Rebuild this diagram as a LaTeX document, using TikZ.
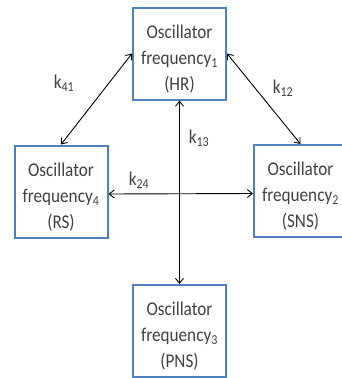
\documentclass[tikz,border=0pt]{standalone}
\usepackage{fontspec}
\setmainfont{Carlito}[FakeStretch=0.88]
\usetikzlibrary{arrows.meta}
\definecolor{boxblue}{HTML}{4F81BD}
\definecolor{txtgray}{HTML}{404040}
% three centred lines, with a taller first line so the block sits lower
\newcommand\osclines[3]{\rule{0pt}{24pt}#1\\#2\\#3}
\begin{document}
\begin{tikzpicture}[x=1pt,y=-1pt,
  oscbox/.style={draw=boxblue, line width=2pt, minimum width=93pt, minimum height=92pt,
    inner sep=0pt, align=center, text=txtgray, font=\fontsize{19.5}{26}\selectfont},
  klabel/.style={text=txtgray, font=\fontsize{19.5}{22}\selectfont, inner sep=1pt},
  link/.style={black, line width=0.9pt, {Straight Barb[length=5pt,width=8pt]}-{Straight Barb[length=5pt,width=8pt]}}]
  \useasboundingbox (0,0) rectangle (341,378);
  % oscillator boxes
  \node[oscbox] (hr)  at (179.5,53.5) {\osclines{Oscillator}{frequency\textsubscript{1}}{(HR)}};
  \node[oscbox] (rs)  at (61,191.5)   {\osclines{Oscillator}{frequency\textsubscript{4}}{(RS)}};
  \node[oscbox] (sns) at (300.5,191)  {\osclines{Oscillator}{frequency\textsubscript{2}}{(SNS)}};
  \node[oscbox] (pns) at (179.5,331)  {\osclines{Oscillator}{frequency\textsubscript{3}}{(PNS)}};
  % coupling links
  \draw[link] (rs.north) -- (hr.west);
  \draw[link] (hr.east) -- (sns.north);
  \draw[link] (hr.south) -- (pns.north);
  \draw[link] ([yshift=-2.5pt]rs.east) -- ([yshift=-2.5pt]sns.west);
  % coupling constants
  \node[klabel] (k41) at (64,83)  {k\textsubscript{41}};
  \node[klabel] (k12) at (283,88) {k\textsubscript{12}};
  \node[klabel] (k13) at (199,138) {k\textsubscript{13}};
  \node[klabel] (k24) at (139,180) {k\textsubscript{24}};
\end{tikzpicture}
\end{document}
